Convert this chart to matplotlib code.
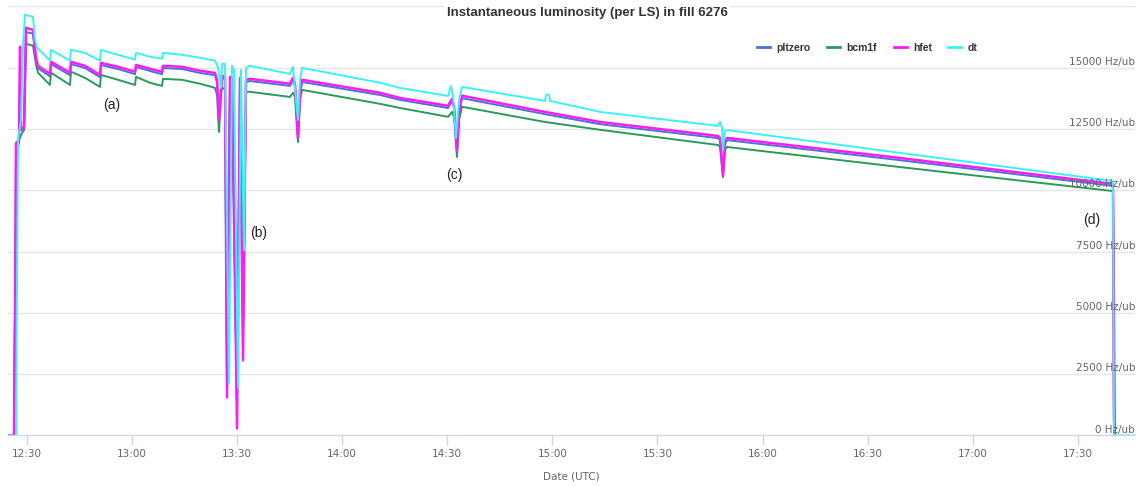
import pandas as pd
import matplotlib
matplotlib.use('Agg')
import matplotlib.pyplot as plt
import matplotlib.dates as mdates
import matplotlib.transforms as mtransforms
from matplotlib.lines import Line2D

plt.rcParams['font.family'] = ['DejaVu Sans']

# all times are minutes after 12:00 UTC on the day of the fill
fill_day = pd.Timestamp('2017-10-13 12:00')

# hfet and pltzero are read out on the same lumisections
t_hfet = [24.72, 26.43, 26.72, 27.00, 27.86, 28.15, 28.43, 29.29, 29.86, 31.85,
          32.71, 33.28, 36.70, 36.99, 42.41, 42.70, 46.69, 50.97, 51.25, 56.10,
          60.96, 61.24, 65.23, 68.66, 68.94, 74.36, 79.50, 83.78, 84.35, 84.92,
          85.49, 85.78, 86.63, 87.20, 88.06, 88.63, 90.06, 90.91, 91.77, 92.62,
          93.76, 105.18, 106.03, 106.60, 107.46, 108.03, 108.60, 130.85, 136.56, 150.26,
          151.40, 151.97, 152.82, 153.40, 154.25, 177.93, 193.63, 227.29, 227.86, 228.72,
          229.29, 229.86, 279.21, 339.98, 340.27, 340.55]
hfet = [0, 0, 5000, 11930, 12060, 15860, 12550, 12550, 16630, 16550,
        15410, 15080, 14750, 15245, 14800, 15245, 15080, 14710, 15200, 15040,
        14840, 15120, 14960, 14840, 15080, 15040, 14880, 14790, 14510, 12870,
        14100, 14670, 14630, 1550, 14630, 14590, 290, 14590, 3070, 14510,
        14550, 14350, 14590, 14350, 12140, 14020, 14510, 13980, 13770, 13450,
        13730, 13450, 11610, 13200, 13860, 13200, 12790, 12220, 12140, 10590,
        11980, 12140, 11320, 10260, 610, 0]
pltzero = [0, 0, 5000, 11800, 11950, 15500, 12450, 12450, 16450, 16400,
           15300, 14980, 14650, 15150, 14700, 15150, 14990, 14620, 15110, 14950,
           14740, 15030, 14870, 14740, 14990, 14950, 14790, 14700, 14420, 12960,
           14010, 14580, 14540, 2200, 14540, 14500, 1500, 14500, 4200, 14420,
           14460, 14260, 14500, 14260, 12250, 13930, 14420, 13890, 13690, 13360,
           13640, 13360, 11700, 13110, 13760, 13110, 12700, 12130, 12050, 10800,
           11890, 12050, 11230, 10180, 6600, 0]

t_bcm1f = [26.43, 26.72, 27.29, 27.86, 28.72, 29.29, 29.86, 31.85, 32.71, 33.28,
           36.70, 36.99, 42.41, 42.70, 46.69, 50.97, 51.25, 56.10, 60.96, 61.24,
           65.23, 68.66, 68.94, 74.36, 79.50, 83.78, 84.35, 84.92, 85.49, 85.78,
           86.63, 87.20, 88.06, 88.63, 90.06, 90.91, 91.77, 92.62, 93.76, 105.18,
           106.03, 106.60, 107.46, 108.03, 108.60, 130.85, 136.56, 150.26, 151.40, 151.97,
           152.82, 153.40, 154.25, 177.93, 193.63, 227.29, 227.86, 228.72, 229.29, 229.86,
           279.21, 339.98, 340.27]
bcm1f = [0, 5520, 11320, 12060, 12340, 12460, 15980, 15900, 15120, 14800,
         14300, 14800, 14300, 14840, 14590, 14220, 14710, 14510, 14300, 14630,
         14390, 14260, 14550, 14510, 14350, 14180, 13900, 12380, 13900, 14180,
         14140, 2250, 14140, 14100, 1020, 14100, 3880, 14020, 14020, 13810,
         13980, 13810, 11970, 13690, 14100, 13530, 13360, 13000, 13200, 13000,
         11360, 12870, 13410, 12790, 12470, 11850, 11770, 10540, 11650, 11770,
         10950, 9970, 0]

t_dt = [24.72, 27.00, 27.57, 28.43, 29.00, 29.57, 31.85, 32.42, 33.00, 36.70,
        36.99, 42.41, 42.70, 46.69, 50.97, 51.25, 56.10, 60.96, 61.24, 65.23,
        68.66, 68.94, 74.36, 79.50, 83.78, 84.63, 85.49, 85.78, 86.63, 87.77,
        88.63, 89.20, 90.34, 91.20, 92.05, 92.62, 93.76, 105.18, 106.03, 106.89,
        107.46, 108.03, 108.60, 130.85, 136.56, 150.26, 151.11, 151.68, 152.54, 153.40,
        154.25, 177.93, 178.22, 179.08, 179.36, 193.63, 227.29, 227.86, 228.43, 228.72,
        229.29, 229.86, 279.21, 339.98, 340.27, 346.26]
dt = [0, 0, 12060, 12870, 15940, 17165, 17080, 16140, 15820, 15290,
      15730, 15290, 15730, 15610, 15290, 15730, 15530, 15330, 15610, 15450,
      15370, 15610, 15530, 15410, 15290, 15000, 14180, 15160, 15160, 2130,
      15080, 14920, 1960, 14920, 7560, 15000, 15080, 14750, 15040, 13690,
      12870, 14510, 15000, 14390, 14180, 13850, 14260, 13850, 12140, 13690,
      14220, 13650, 13900, 13900, 13650, 13200, 12630, 12790, 12550, 11650,
      12420, 12460, 11530, 10380, 0, 0]

y_ticks = [0, 2500, 5000, 7500, 10000, 12500, 15000, 17500]
x_range = [24.72, 346.26]

notes = ['(a)', '(b)', '(c)', '(d)']
note_t = [54.39, 96.33, 151.97, 334.0]
note_v = [13490, 8260, 10630, 8790]


def to_time(minutes):
    return fill_day + pd.to_timedelta(minutes, unit='min')


fig = plt.figure(figsize=(11.41, 4.86), dpi=100)
ax = fig.add_axes([8 / 1141, 1 - 435.5 / 486, 1127 / 1141, 429 / 486])

series = [
    ('pltzero', t_hfet, pltzero, '#4676c6', 1.4),
    ('bcm1f', t_bcm1f, bcm1f, '#2a9a5a', 1.4),
    ('hfet', t_hfet, hfet, '#ff1aff', 1.8),
    ('dt', t_dt, dt, '#3af2f5', 1.4),
]
handles = []
for name, t, v, color, lw in series:
    ax.plot(to_time(t), v, color=color, lw=lw, solid_joinstyle='round', zorder=3)
    handles.append(Line2D([], [], color=color, lw=2))

ax.set_xlim(to_time(x_range[0]), to_time(x_range[1]))
ax.set_ylim(y_ticks[0], y_ticks[-1])

# light horizontal grid, y labels sit inside the plot on the right
ax.set_yticks(y_ticks)
ax.yaxis.grid(True, color='#e6e6e6', lw=1, zorder=0)
ax.tick_params(axis='y', left=False, labelleft=False)
label_tr = mtransforms.offset_copy(
    mtransforms.blended_transform_factory(ax.transAxes, ax.transData),
    fig=fig, x=0, y=3, units='dots')
for v in y_ticks[:-1]:
    ax.text(1.0, v, f'{v} Hz/ub', transform=label_tr, ha='right', va='baseline',
            fontsize=7.5, color='#666666', zorder=4)

for side in ['top', 'left', 'right']:
    ax.spines[side].set_visible(False)
ax.spines['bottom'].set_color('#ccd6eb')
ax.spines['bottom'].set_zorder(2)

ax.xaxis.set_major_locator(mdates.MinuteLocator(byminute=[0, 30]))
ax.xaxis.set_major_formatter(mdates.DateFormatter('%H:%M'))
ax.tick_params(axis='x', length=7.5, width=1, color='#ccd6eb', pad=2,
               labelsize=7.5, labelcolor='#666666')
ax.set_xlabel('Date (UTC)', fontsize=7.5, color='#666666', labelpad=9)

fig.text(587 / 1141, 1 - 13 / 486, 'Instantaneous luminosity (per LS) in fill 6276',
         ha='center', va='center', family='Liberation Sans', fontweight='bold',
         fontsize=9.5, color='#333333',
         bbox=dict(facecolor='white', edgecolor='none', pad=1.5))

leg = ax.legend(handles, [s[0] for s in series], loc='center left',
                bbox_to_anchor=(757 / 1141, 1 - 48 / 486), bbox_transform=fig.transFigure,
                ncol=4, frameon=False, borderpad=0, borderaxespad=0,
                handlelength=1.25, handletextpad=0.6, columnspacing=1.6,
                prop=dict(family='Liberation Sans', weight='bold', size=7.5))
for txt in leg.get_texts():
    txt.set_color('#333333')

for label, t, v in zip(notes, note_t, note_v):
    ax.text(to_time(t), v, label, ha='center', va='center', fontsize=10,
            family='Liberation Sans', color='#222222', zorder=5)

fig.savefig('out.png', dpi=100, facecolor='white')
